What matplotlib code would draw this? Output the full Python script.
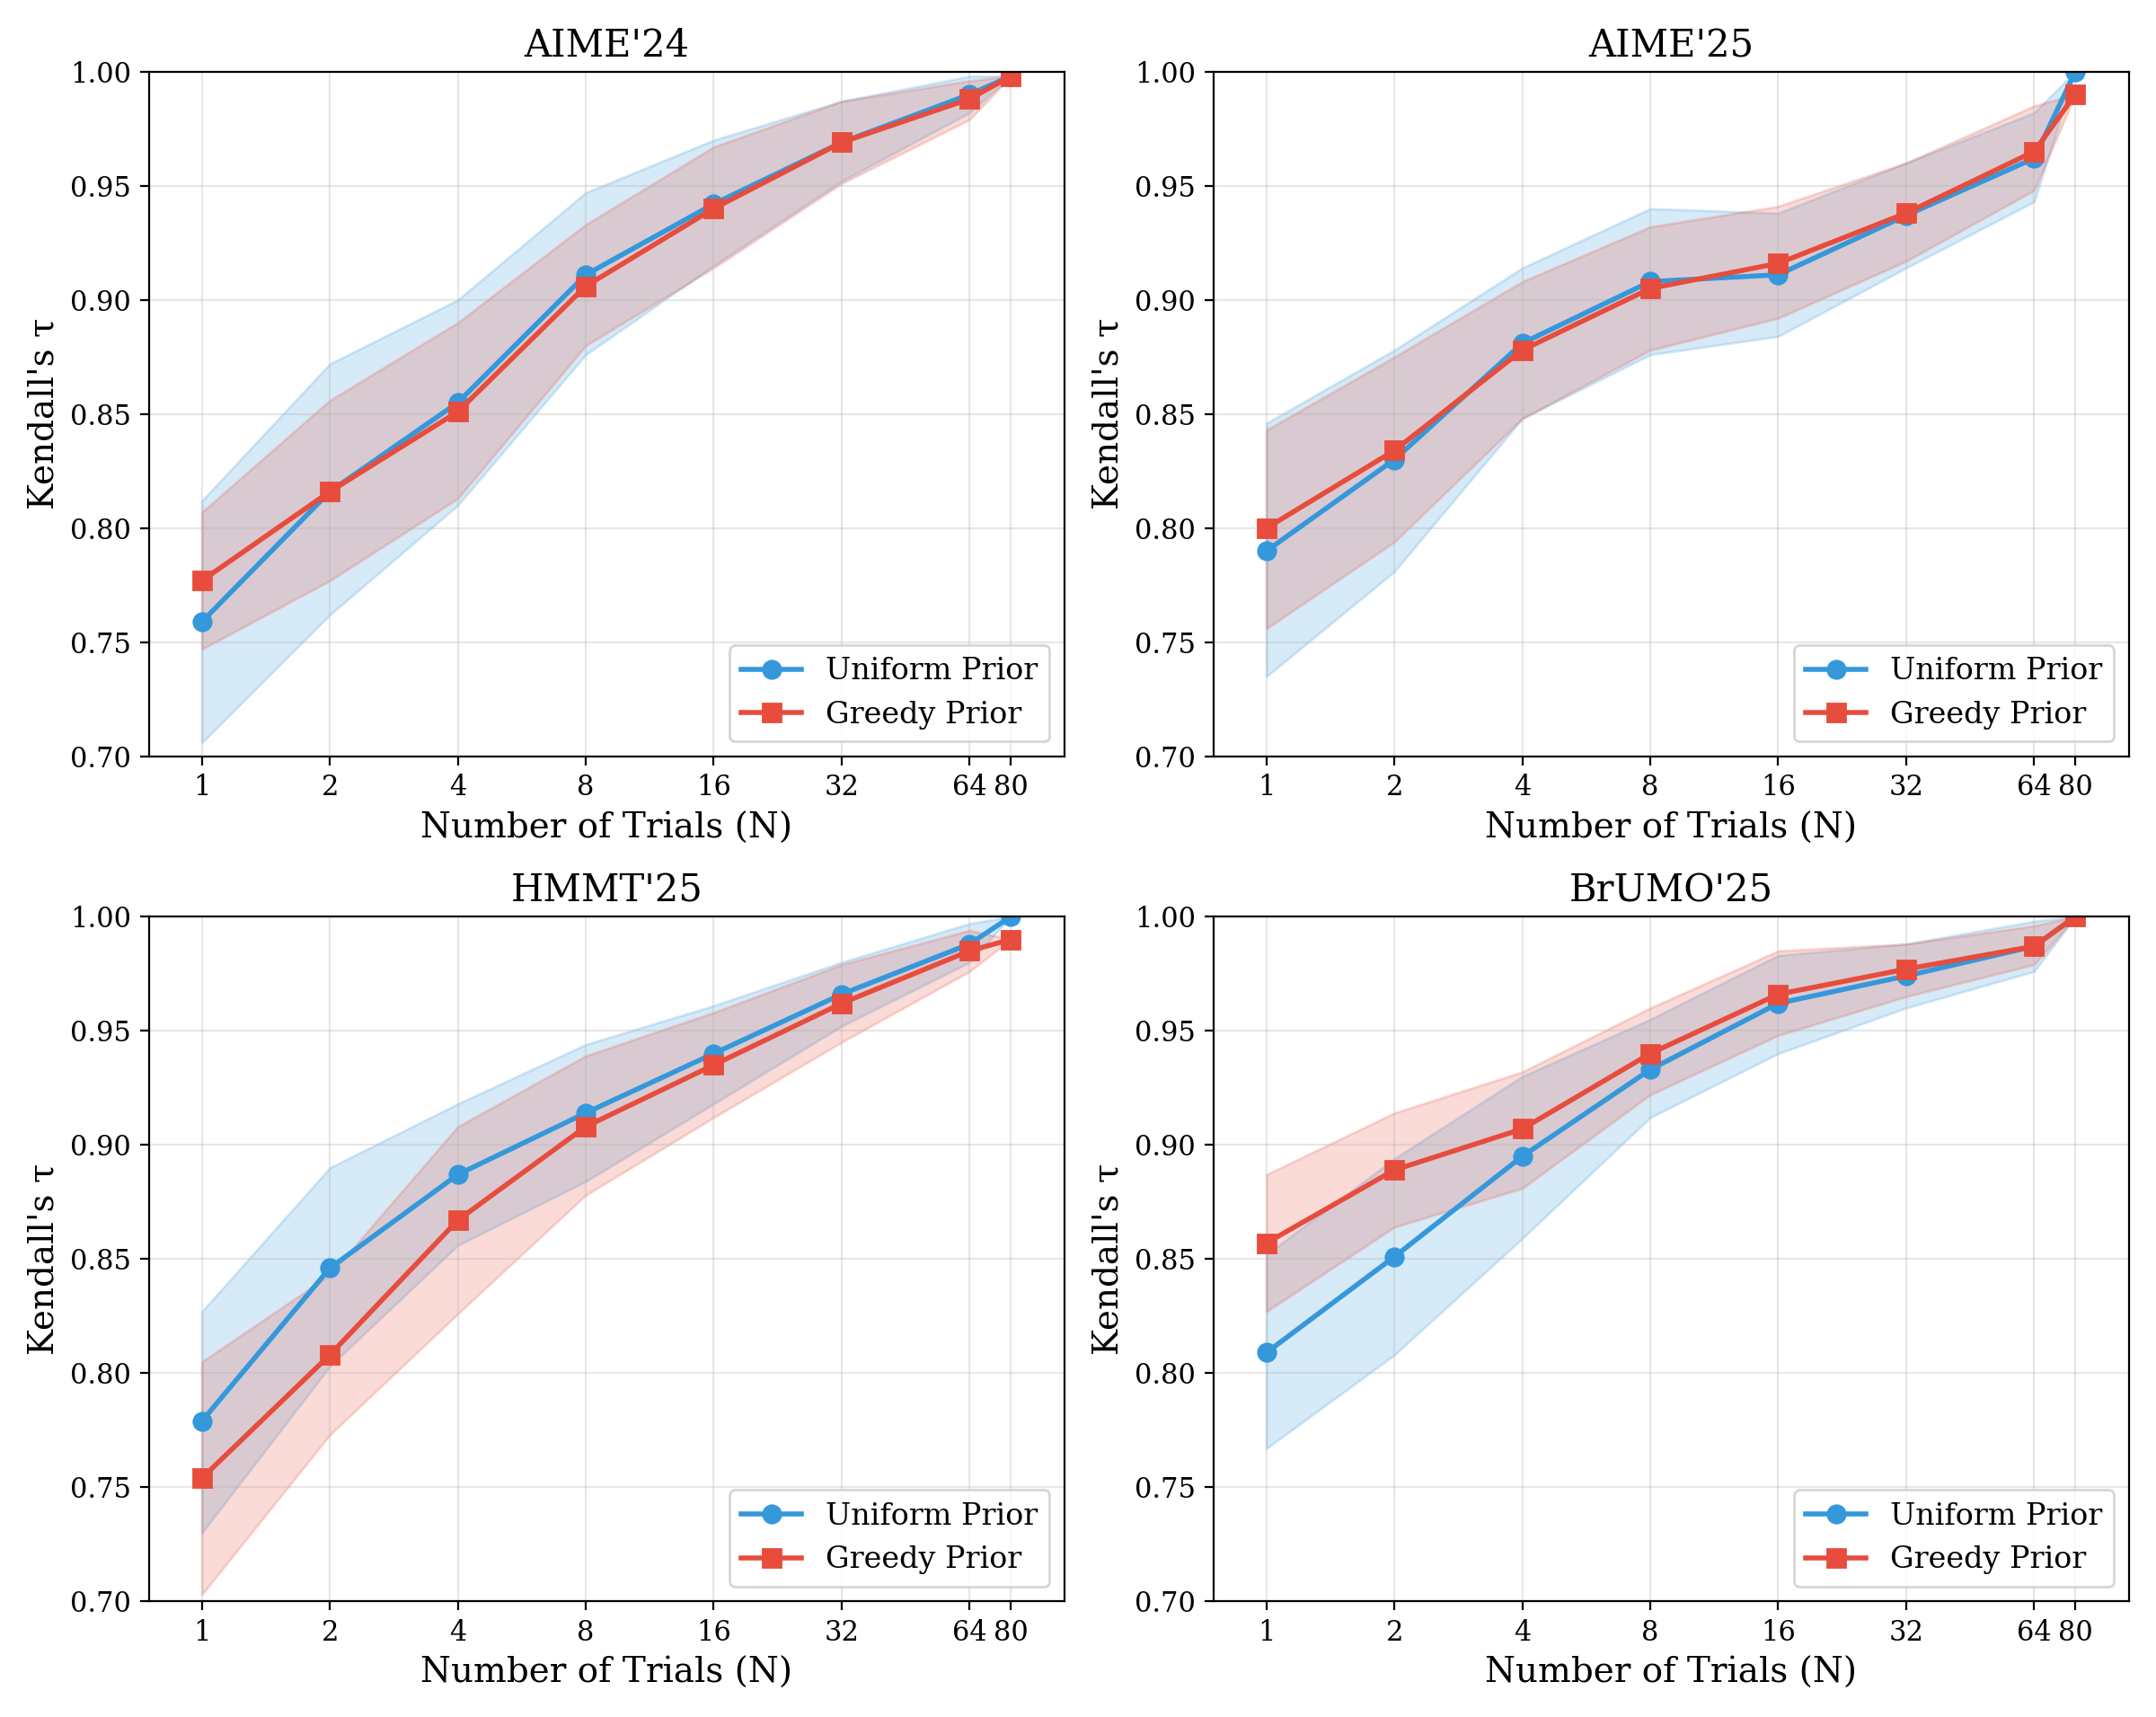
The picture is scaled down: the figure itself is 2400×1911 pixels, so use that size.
import numpy as np
import matplotlib.pyplot as plt

plt.rcParams['font.family'] = 'DejaVu Serif'

trials = [1, 2, 4, 8, 16, 32, 64, 80]
titles = ["AIME'24", "AIME'25", "HMMT'25", "BrUMO'25"]

# uniform prior: mean, low, high
uni_mean = [
    [0.759, 0.816, 0.855, 0.911, 0.942, 0.969, 0.990, 0.998],
    [0.790, 0.830, 0.881, 0.908, 0.911, 0.937, 0.962, 1.000],
    [0.779, 0.846, 0.887, 0.914, 0.940, 0.966, 0.988, 1.000],
    [0.809, 0.851, 0.895, 0.933, 0.962, 0.974, 0.987, 1.000],
]
uni_low = [
    [0.706, 0.762, 0.810, 0.876, 0.915, 0.952, 0.982, 0.998],
    [0.735, 0.781, 0.848, 0.876, 0.884, 0.914, 0.943, 1.000],
    [0.730, 0.803, 0.856, 0.884, 0.918, 0.952, 0.980, 1.000],
    [0.767, 0.808, 0.859, 0.912, 0.940, 0.960, 0.976, 1.000],
]
uni_high = [
    [0.812, 0.872, 0.900, 0.947, 0.970, 0.987, 0.998, 0.998],
    [0.846, 0.878, 0.914, 0.940, 0.938, 0.960, 0.982, 1.000],
    [0.827, 0.890, 0.918, 0.944, 0.961, 0.980, 0.997, 1.000],
    [0.852, 0.894, 0.930, 0.955, 0.983, 0.988, 0.998, 1.000],
]
# greedy prior
gr_mean = [
    [0.777, 0.816, 0.851, 0.906, 0.940, 0.969, 0.988, 0.998],
    [0.800, 0.834, 0.878, 0.905, 0.916, 0.938, 0.965, 0.990],
    [0.754, 0.808, 0.867, 0.908, 0.935, 0.962, 0.985, 0.990],
    [0.857, 0.889, 0.907, 0.940, 0.966, 0.977, 0.987, 1.000],
]
gr_low = [
    [0.747, 0.777, 0.813, 0.880, 0.914, 0.951, 0.979, 0.998],
    [0.756, 0.794, 0.848, 0.878, 0.892, 0.917, 0.948, 0.990],
    [0.703, 0.773, 0.826, 0.878, 0.912, 0.945, 0.976, 0.990],
    [0.827, 0.864, 0.881, 0.922, 0.948, 0.965, 0.979, 1.000],
]
gr_high = [
    [0.807, 0.856, 0.890, 0.933, 0.967, 0.987, 0.996, 0.998],
    [0.843, 0.875, 0.908, 0.932, 0.941, 0.960, 0.985, 0.990],
    [0.805, 0.843, 0.908, 0.939, 0.958, 0.979, 0.994, 0.990],
    [0.887, 0.914, 0.932, 0.960, 0.985, 0.988, 0.996, 1.000],
]

blue = '#3498db'
red = '#e74c3c'

fig, axes = plt.subplots(2, 2, figsize=(12, 9.555), dpi=200)
for i, ax in enumerate(axes.flat):
    ax.fill_between(trials, uni_low[i], uni_high[i], color=blue, alpha=0.2)
    ax.fill_between(trials, gr_low[i], gr_high[i], color=red, alpha=0.2)
    ax.plot(trials, uni_mean[i], '-o', color=blue, lw=2, ms=7, label='Uniform Prior')
    ax.plot(trials, gr_mean[i], '-s', color=red, lw=2, ms=7, label='Greedy Prior')
    ax.set_xscale('log', base=2)
    ax.set_xticks(trials)
    ax.set_xticklabels([str(t) for t in trials])
    ax.minorticks_off()
    ax.set_xlim(0.75, 107)
    ax.set_ylim(0.70, 1.00)
    ax.grid(True, alpha=0.3)
    ax.set_title(titles[i], fontsize=15)
    ax.set_xlabel('Number of Trials (N)', fontsize=14)
    ax.set_ylabel("Kendall's τ", fontsize=14)
    ax.tick_params(labelsize=11)
    ax.legend(loc='lower right', fontsize=12)

plt.tight_layout()
plt.savefig('out.png')
